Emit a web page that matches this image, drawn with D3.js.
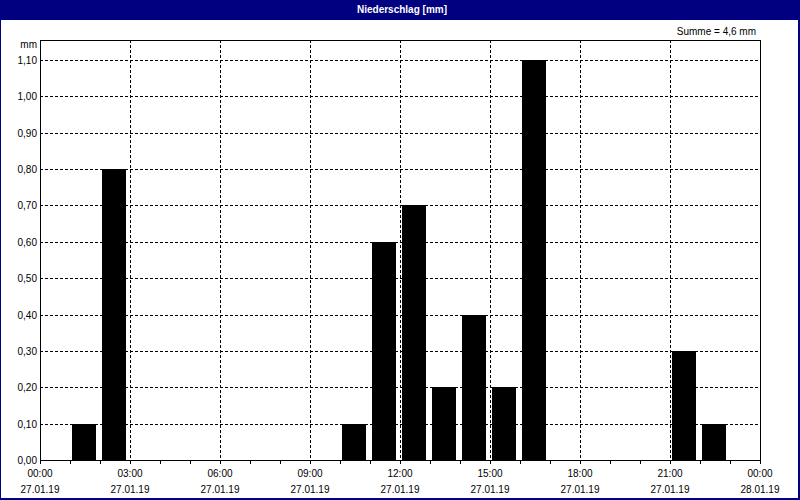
<!DOCTYPE html>
<html>
<head>
<meta charset="utf-8">
<script src="https://cdn.jsdelivr.net/npm/d3@7"></script>
<style>
  body { margin: 0; background: #fff; }
  text { font-family: "Liberation Sans", Arial, sans-serif; font-size: 10px; fill: #000; }
</style>
</head>
<body>
<svg id="chart" width="800" height="500"></svg>
<script>
// hourly precipitation, bar starts at the given hour
const hours = [1, 2, 10, 11, 12, 13, 14, 15, 16, 21, 22];
const values = [0.1, 0.8, 0.1, 0.6, 0.7, 0.2, 0.4, 0.2, 1.1, 0.3, 0.1];
const yTicks = [0, 0.1, 0.2, 0.3, 0.4, 0.5, 0.6, 0.7, 0.8, 0.9, 1.0, 1.1];
const xTicks = [0, 3, 6, 9, 12, 15, 18, 21, 24];
const xDates = ["27.01.19", "27.01.19", "27.01.19", "27.01.19", "27.01.19", "27.01.19", "27.01.19", "27.01.19", "28.01.19"];
const title = "Niederschlag [mm]";
const sumLabel = "Summe = 4,6 mm";

const svg = d3.select("#chart");
const W = 800, H = 500;
const navy = "#000080";

// plot box (names avoid window.top clash)
const plotL = 40, plotR = 760, plotT = 40, plotB = 460;

const x = d3.scaleLinear().domain([0, 24]).range([plotL, plotR]);
const y = d3.scaleLinear().domain([0, 1.1]).range([plotB, 60]);

// frame + title bar
svg.append("rect").attr("x", 0).attr("y", 0).attr("width", W).attr("height", H).attr("fill", navy);
svg.append("rect").attr("x", 1).attr("y", 20).attr("width", W - 3).attr("height", H - 22).attr("fill", "#fff");
svg.append("text").attr("x", 402).attr("y", 13).attr("text-anchor", "middle")
  .style("fill", "#fff").style("font-weight", "bold").style("font-size", "10px").text(title);

svg.append("text").attr("x", 756).attr("y", 35).attr("text-anchor", "end").text(sumLabel);

// grid
const grid = svg.append("g").attr("stroke", "#000").attr("stroke-width", 1).attr("stroke-dasharray", "3,2");
grid.selectAll(".h").data(yTicks.filter(d => d > 0)).join("line")
  .attr("x1", plotL).attr("x2", plotR)
  .attr("y1", d => Math.round(y(d)) + 0.5).attr("y2", d => Math.round(y(d)) + 0.5);
grid.selectAll(".v").data(xTicks.filter(d => d > 0 && d < 24)).join("line")
  .attr("x1", d => x(d) + 0.5).attr("x2", d => x(d) + 0.5)
  .attr("y1", plotT).attr("y2", plotB);

// bars
svg.append("g").selectAll("rect").data(hours).join("rect")
  .attr("x", (d) => x(d) + 2)
  .attr("width", x(1) - x(0) - 6)
  .attr("y", (d, i) => Math.round(y(values[i])))
  .attr("height", (d, i) => plotB - Math.round(y(values[i])))
  .attr("fill", "#000");

// box
svg.append("rect").attr("x", plotL + 0.5).attr("y", plotT + 0.5)
  .attr("width", plotR - plotL).attr("height", plotB - plotT)
  .attr("fill", "none").attr("stroke", "#000");

// hourly ticks under x axis
svg.append("g").selectAll("line").data(d3.range(0, 25)).join("line")
  .attr("x1", d => x(d) + 0.5).attr("x2", d => x(d) + 0.5)
  .attr("y1", plotB).attr("y2", plotB + 4).attr("stroke", "#000");

// y labels
svg.append("g").selectAll("text").data(yTicks).join("text")
  .attr("x", 37).attr("y", d => y(d) + 4).attr("text-anchor", "end")
  .text(d => d3.format(".2f")(d).replace(".", ","));
svg.append("text").attr("x", 37).attr("y", 48).attr("text-anchor", "end").text("mm");

// x labels
const xl = svg.append("g").selectAll("g").data(xTicks).join("g");
xl.append("text").attr("x", d => x(d)).attr("y", 477).attr("text-anchor", "middle")
  .text(d => String(d % 24).padStart(2, "0") + ":00");
xl.append("text").attr("x", d => x(d)).attr("y", 493).attr("text-anchor", "middle")
  .text((d, i) => xDates[i]);
</script>
</body>
</html>
